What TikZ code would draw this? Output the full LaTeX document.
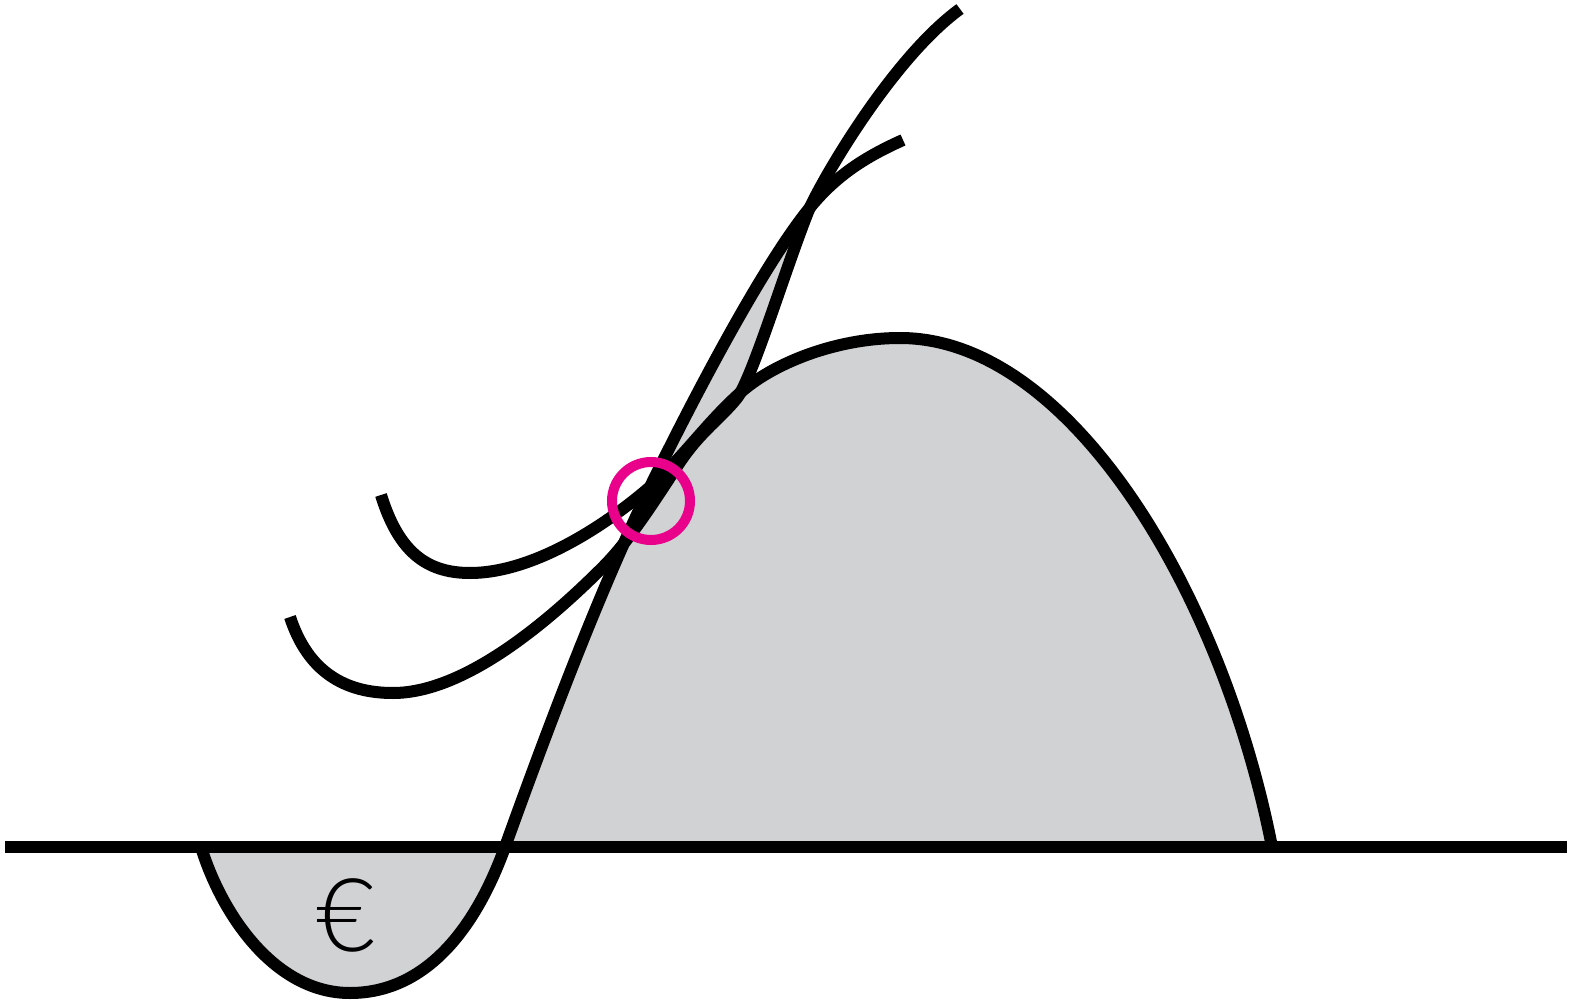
\documentclass[tikz,border=0pt]{standalone}
\usepackage{fontspec}
\IfFontExistsTF{Lato Light}{\newfontfamily\eurofont{Lato Light}}{\newfontfamily\eurofont{Lato}}
\definecolor{fillgray}{RGB}{209,210,212}
\definecolor{ringpink}{RGB}{233,0,139}
% J-shaped curve (bowl below the axis, ends upper right)
\newcommand\pathCone{(201,847) .. controls (222,915) and (275,993) .. (350,993)
  .. controls (425,993) and (475,930) .. (505,847)
  .. controls (550,722) and (600,590) .. (650,487)
  .. controls (690,405) and (760,270) .. (808,210)
  .. controls (835,176) and (865,157) .. (903,140)}
% S-shaped curve (lower left start, ends at the top)
\newcommand\pathQ{(290,617) .. controls (308,672) and (345,693) .. (393,693)
  .. controls (470,693) and (560,610) .. (603,567)
  .. controls (630,540) and (655,500) .. (680,462)
  .. controls (700,432) and (722,417) .. (737,398)
  .. controls (752,379) and (785,270) .. (808,212)
  .. controls (818,187) and (890,60) .. (960,9)}
% hump curve
\newcommand\pathP{(381,495) .. controls (398,550) and (425,573) .. (470,573)
  .. controls (540,573) and (620,515) .. (660,478)
  .. controls (690,448) and (710,420) .. (740,393)
  .. controls (772,364) and (835,338) .. (900,338)
  .. controls (1070,338) and (1222,592) .. (1272,847)}
\newcommand\rightofCone{\pathCone -- (1150,0) -- (1575,0) -- (1575,1003) -- (201,1003) -- cycle}
\tikzset{
  curve/.style={draw=black, line width=12pt, line cap=butt, line join=round},
  ring/.style={draw=ringpink, line width=10pt},
  eurolabel/.style={font=\eurofont\fontsize{102}{110}\selectfont, inner sep=0pt, anchor=base}
}
\begin{document}
\begin{tikzpicture}[x=1pt,y=-1pt]
\useasboundingbox (0,0) rectangle (1575,1003);
% bowl below the axis
\begin{scope}
  \clip (0,847) rectangle (1575,1003);
  \fill[fillgray] \pathCone -- cycle;
\end{scope}
% hump above the axis
\begin{scope}
  \clip (0,0) rectangle (1575,847);
  \clip \rightofCone;
  \fill[fillgray] \pathP -- (381,847) -- cycle;
\end{scope}
% sliver between the two rising curves
\begin{scope}
  \clip (600,150) rectangle (900,520);
  \clip \rightofCone;
  \fill[fillgray] \pathQ -- (975,0) -- (0,0) -- (0,617) -- cycle;
\end{scope}
% axis
\coordinate (axL) at (5,847);
\coordinate (axR) at (1567,847);
\draw[curve] (axL) -- (axR);
% curves
\draw[curve] \pathCone;
\draw[curve] \pathQ;
\draw[curve] \pathP;
% ring
\node[ring, circle, minimum size=78pt, inner sep=0pt] (ringnode) at (651,501) {};
% euro
\node[eurolabel] (euro) at (346,951) {€};
\end{tikzpicture}
\end{document}
